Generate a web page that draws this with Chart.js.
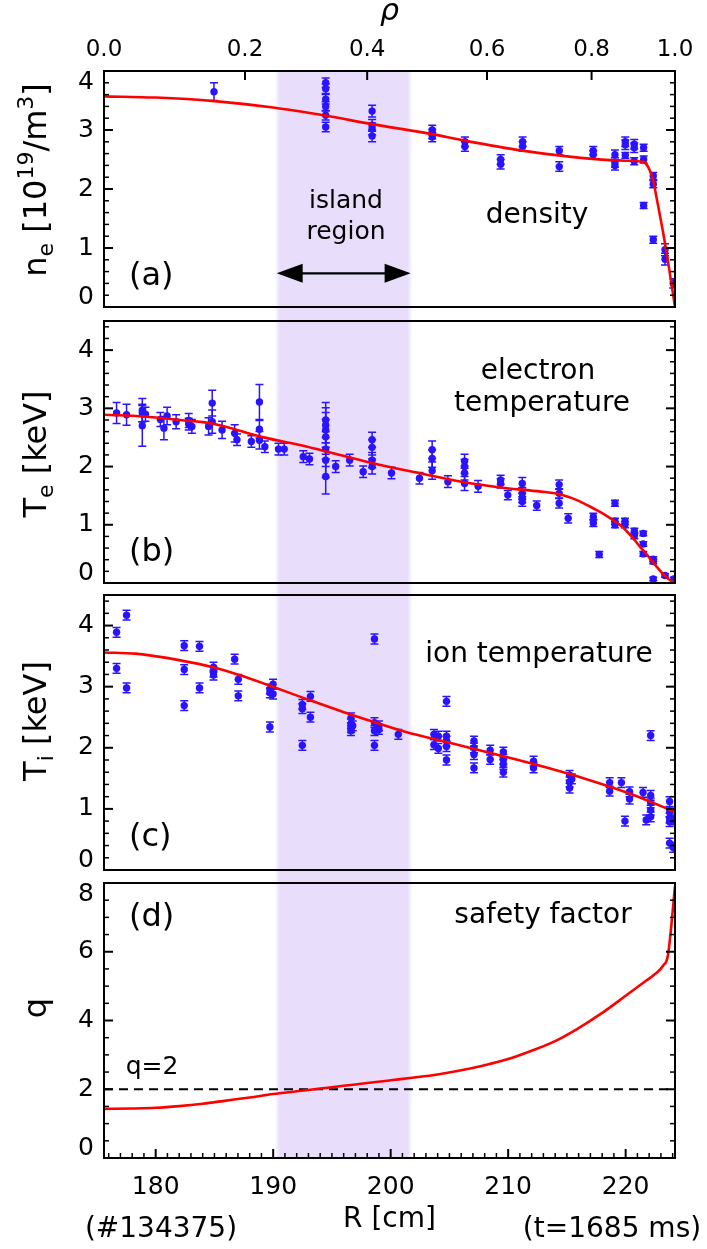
<!DOCTYPE html>
<html><head><meta charset="utf-8">
<script src="https://cdn.jsdelivr.net/npm/chart.js@4"></script>
<style>
body{margin:0;background:#fff}
#wrap{position:relative;width:707px;height:1249px;background:#fff}
canvas{position:absolute;left:0}
</style>
</head><body>
<div id="wrap">
<canvas id="ca" width="707" height="314" style="top:0px"></canvas>
<canvas id="cb" width="707" height="275" style="top:314px"></canvas>
<canvas id="cc" width="707" height="287" style="top:589px"></canvas>
<canvas id="cd" width="707" height="373" style="top:876px"></canvas>
</div>
<script>
// ---------- axis / tick data ----------
const R_MIN = 175.6, R_MAX = 224.2;
const R_TICKS = [180, 190, 200, 210, 220];
const R_MINOR = [176,177,178,179,181,182,183,184,185,186,187,188,189,191,192,193,194,195,196,197,198,199,201,202,203,204,205,206,207,208,209,211,212,213,214,215,216,217,218,219,221,222,223,224];
const RHO_LABELS = ['0.0', '0.2', '0.4', '0.6', '0.8', '1.0'];
const RHO_AT_R = [175.6, 187.6, 198.0, 208.2, 217.1, 224.2];
const ISLAND_R = [190.3, 201.7];

const NE_TICKS = [0, 1, 2, 3, 4];
const NE_MINOR = [0.2,0.4,0.6,0.8,1.2,1.4,1.6,1.8,2.2,2.4,2.6,2.8,3.2,3.4,3.6,3.8];
const T_TICKS = [0, 1, 2, 3, 4];
const T_MINOR = [0.2,0.4,0.6,0.8,1.2,1.4,1.6,1.8,2.2,2.4,2.6,2.8,3.2,3.4,3.6,3.8,4.2,4.4];
const Q_TICKS = [0, 2, 4, 6, 8];
const Q_MINOR = [0.5,1,1.5,2.5,3,3.5,4.5,5,5.5,6.5,7,7.5];

// ---------- density ----------
const NE_R = [184.96,194.47,194.47,194.47,194.47,194.47,194.47,198.42,198.42,198.42,198.42,203.54,203.54,203.54,206.32,206.32,209.36,209.36,211.23,211.23,214.35,214.35,217.24,217.24,219.09,219.09,219.09,219.97,219.97,219.97,220.73,220.73,220.73,221.53,221.53,221.53,222.35,222.35,222.35,223.35,223.35,224.05];
const NE_V = [3.65,3.80,3.70,3.52,3.40,3.25,3.05,3.32,3.08,3.02,2.90,3.00,2.93,2.88,2.80,2.72,2.50,2.42,2.80,2.72,2.65,2.38,2.65,2.58,2.58,2.45,2.40,2.80,2.75,2.57,2.76,2.70,2.47,2.70,2.50,1.72,2.22,2.08,1.14,0.97,0.81,0.40];
const NE_ERR = [0.15,0.08,0.08,0.08,0.08,0.08,0.08,0.10,0.10,0.10,0.10,0.08,0.08,0.08,0.08,0.08,0.08,0.08,0.08,0.08,0.07,0.08,0.07,0.07,0.08,0.08,0.08,0.08,0.08,0.05,0.08,0.08,0.06,0.06,0.06,0.05,0.06,0.06,0.06,0.10,0.10,0.08];
const NE_FIT_R = [175.6,180,185,190,194.5,198.4,203.5,206.3,211.2,214.3,217.2,220.0,221.5,221.9,222.3,222.7,223.2,223.7,224.2];
const NE_FIT_V = [3.57,3.55,3.49,3.38,3.24,3.10,2.93,2.82,2.65,2.57,2.51,2.48,2.46,2.38,2.18,1.78,1.25,0.65,0.0];

// ---------- electron temperature ----------
const TE_R = [176.67,177.52,178.86,178.86,178.86,179.13,180.40,180.70,180.97,181.74,182.81,182.81,183.08,184.50,184.81,184.81,185.65,186.72,186.92,188.14,188.83,188.83,188.83,189.29,190.45,190.94,192.56,193.09,194.47,194.47,194.47,194.47,194.47,194.47,194.47,195.32,196.51,197.66,198.42,198.42,198.42,198.42,200.07,202.45,203.53,203.53,203.53,204.87,206.29,206.29,206.29,206.29,207.44,209.36,209.36,209.97,211.20,211.20,211.20,211.20,212.43,214.34,214.34,214.34,215.11,217.25,217.25,217.75,219.09,219.09,219.09,219.94,219.94,220.74,220.74,221.50,221.50,221.50,222.35,222.35,222.35,223.35,224.10];
const TE_V = [2.92,2.89,2.97,2.92,2.70,2.90,2.81,2.66,2.87,2.77,2.79,2.73,2.69,2.69,2.77,3.09,2.63,2.57,2.46,2.43,3.11,2.64,2.45,2.34,2.30,2.30,2.17,2.13,2.80,2.71,2.63,2.51,2.30,2.11,1.83,2.00,2.11,1.91,2.46,2.33,2.11,2.00,1.89,1.80,2.29,2.14,1.93,1.74,2.09,2.00,1.89,1.71,1.66,1.77,1.71,1.51,1.71,1.54,1.46,1.40,1.33,1.69,1.54,1.37,1.11,1.14,1.03,0.49,1.37,1.06,1.00,1.06,1.00,0.89,0.81,0.85,0.67,0.50,0.41,0.37,0.07,0.13,0.07];
const TE_ERR = [0.18,0.18,0.20,0.15,0.35,0.12,0.12,0.20,0.15,0.12,0.12,0.10,0.12,0.15,0.20,0.22,0.15,0.15,0.10,0.10,0.30,0.15,0.15,0.10,0.10,0.10,0.10,0.10,0.30,0.30,0.30,0.30,0.30,0.30,0.30,0.10,0.10,0.10,0.13,0.13,0.13,0.13,0.10,0.10,0.15,0.15,0.15,0.10,0.12,0.12,0.12,0.12,0.10,0.08,0.08,0.08,0.10,0.10,0.08,0.08,0.08,0.08,0.08,0.08,0.08,0.06,0.06,0.05,0.05,0.05,0.05,0.05,0.05,0.05,0.05,0.04,0.04,0.04,0.04,0.04,0.03,0.03,0.03];
const TE_FIT_R = [175.6,179.0,182.1,184.8,189.0,192.9,194.5,198.4,202.4,206.3,209.0,212.8,214.0,215.1,216.0,217.0,218.0,219.0,219.8,220.5,221.2,222.0,222.6,223.3,223.9,224.2];
const TE_FIT_V = [2.89,2.86,2.80,2.74,2.51,2.34,2.26,2.06,1.89,1.73,1.65,1.57,1.54,1.48,1.41,1.31,1.20,1.07,0.95,0.80,0.63,0.44,0.29,0.13,0.03,0.0];

// ---------- ion temperature ----------
const TI_R = [176.67,176.67,177.52,177.52,182.43,182.43,182.43,183.73,183.73,184.92,184.92,184.92,186.72,187.03,187.03,189.72,189.72,189.72,189.99,189.99,192.48,192.48,192.48,193.17,193.17,196.62,196.62,196.62,196.62,196.77,198.62,198.62,198.62,198.62,199.00,199.00,200.65,203.68,203.68,204.06,204.06,204.75,204.75,204.75,204.75,204.75,207.09,207.09,207.09,207.09,208.47,208.47,209.59,209.59,209.59,209.59,212.16,212.16,215.23,215.23,215.23,215.42,218.64,218.64,219.64,219.94,220.33,220.33,221.48,221.75,222.13,222.13,222.13,222.13,222.13,223.74,223.74,223.74,223.74,223.74,224.05,224.05];
const TI_V = [3.89,3.30,4.17,2.98,3.67,3.28,2.69,3.66,2.98,3.32,3.24,3.19,3.45,3.12,2.85,2.96,2.90,2.34,3.04,2.88,2.71,2.64,2.04,2.84,2.50,2.49,2.39,2.33,2.28,2.36,3.78,2.41,2.28,2.04,2.36,2.30,2.22,2.22,2.05,2.19,1.99,2.76,2.19,2.11,2.02,1.80,2.11,2.00,1.89,1.67,1.96,1.81,1.93,1.81,1.73,1.60,1.78,1.67,1.55,1.44,1.34,1.49,1.43,1.29,1.43,0.80,1.28,1.16,1.27,0.82,2.20,1.22,1.10,0.98,0.87,1.12,0.95,0.85,0.79,0.44,0.82,0.37];
const TI_ERR = [0.08,0.08,0.08,0.08,0.08,0.08,0.08,0.08,0.08,0.08,0.08,0.08,0.08,0.08,0.08,0.08,0.08,0.08,0.08,0.08,0.08,0.08,0.08,0.08,0.08,0.08,0.08,0.08,0.08,0.08,0.08,0.08,0.08,0.08,0.08,0.08,0.08,0.08,0.08,0.08,0.08,0.08,0.08,0.08,0.08,0.08,0.08,0.08,0.08,0.08,0.08,0.08,0.08,0.08,0.08,0.08,0.08,0.08,0.08,0.08,0.08,0.08,0.08,0.08,0.08,0.08,0.08,0.08,0.08,0.08,0.08,0.08,0.08,0.08,0.08,0.08,0.08,0.08,0.08,0.08,0.08,0.08];
const TI_FIT_R = [175.6,178.3,182.1,184.8,187.1,189.8,192.8,195.9,198.6,201.3,205.1,209.0,212.8,216.6,220.5,224.2];
const TI_FIT_V = [3.56,3.54,3.43,3.32,3.19,3.01,2.80,2.59,2.42,2.26,2.08,1.89,1.70,1.49,1.24,0.95];

// ---------- safety factor ----------
const Q_FIT_R = [175.6,178,180,182,184,186,188,190,192,194,196,198,200,202,204,206,208,210,212,214,216,218,220,221.5,222.5,223.2,223.6,224.2];
const Q_FIT_V = [1.43,1.44,1.46,1.51,1.58,1.67,1.76,1.86,1.94,2.02,2.10,2.18,2.26,2.34,2.43,2.55,2.70,2.88,3.12,3.40,3.78,4.22,4.72,5.10,5.35,5.60,5.90,7.90];
const Q_REF = 2;
const ARROW_V = 0.57;

// ---------- styling ----------
const FONT = "'DejaVu Sans', 'Bitstream Vera Sans', Verdana, sans-serif";
const BLUE = '#2a14ff';
const RED = '#ff0000';
const SHADE = 'rgba(232,222,252,1)';
const SHADE0 = 'rgba(232,222,252,0)';

function pts(xs, ys) { return xs.map((x, i) => ({ x: x, y: ys[i] })); }
function line(ctx, x1, y1, x2, y2) { ctx.beginPath(); ctx.moveTo(x1, y1); ctx.lineTo(x2, y2); ctx.stroke(); }

const panelPlugin = {
  id: 'panel',
  beforeDatasetsDraw(chart, args, o) {
    const ctx = chart.ctx, xs = chart.scales.x, ys = chart.scales.y, ca = chart.chartArea;
    const x0 = xs.getPixelForValue(ISLAND_R[0]), x1 = xs.getPixelForValue(ISLAND_R[1]);
    const top = o.shadeFromArea ? ca.top : 0;
    const bot = o.shadeToArea ? ca.bottom : chart.height;
    ctx.save();
    const w = x1 - x0 + 4;
    const g = ctx.createLinearGradient(x0 - 2, 0, x1 + 2, 0);
    g.addColorStop(0, SHADE0); g.addColorStop(5 / w, SHADE); g.addColorStop(1 - 5 / w, SHADE); g.addColorStop(1, SHADE0);
    ctx.fillStyle = g;
    ctx.fillRect(x0 - 2, top, w, bot - top);
    // error bars
    ctx.beginPath(); ctx.rect(ca.left, ca.top, ca.right - ca.left, ca.bottom - ca.top); ctx.clip();
    chart.data.datasets.forEach(ds => {
      if (!ds.errors) return;
      ctx.strokeStyle = ds.backgroundColor; ctx.lineWidth = 1.5;
      ds.data.forEach((p, i) => {
        const e = ds.errors[i];
        const px = xs.getPixelForValue(p.x);
        const ya = ys.getPixelForValue(p.y + e), yb = ys.getPixelForValue(p.y - e);
        ctx.beginPath();
        ctx.moveTo(px, ya); ctx.lineTo(px, yb);
        ctx.moveTo(px - 4, ya); ctx.lineTo(px + 4, ya);
        ctx.moveTo(px - 4, yb); ctx.lineTo(px + 4, yb);
        ctx.stroke();
      });
    });
    ctx.restore();
  },
  afterDraw(chart, args, o) {
    const ctx = chart.ctx, xs = chart.scales.x, ys = chart.scales.y, ca = chart.chartArea;
    ctx.save();
    ctx.strokeStyle = '#000'; ctx.fillStyle = '#000';
    // y ticks (inward, both sides)
    ctx.lineWidth = 1.5;
    o.yMinor.forEach(v => { const py = ys.getPixelForValue(v); line(ctx, ca.left, py, ca.left + 5, py); line(ctx, ca.right, py, ca.right - 5, py); });
    ctx.lineWidth = 2;
    o.yMajor.forEach(v => { const py = ys.getPixelForValue(v); line(ctx, ca.left, py, ca.left + 9, py); line(ctx, ca.right, py, ca.right - 9, py); });
    if (o.rTicks) {
      ctx.lineWidth = 1.5;
      R_MINOR.forEach(v => { const px = xs.getPixelForValue(v); line(ctx, px, ca.bottom, px, ca.bottom - 5); });
      ctx.lineWidth = 2;
      R_TICKS.forEach(v => { const px = xs.getPixelForValue(v); line(ctx, px, ca.bottom, px, ca.bottom - 9); });
    }
    if (o.rhoTicks) {
      ctx.lineWidth = 2;
      RHO_AT_R.slice(1, -1).forEach(v => { const px = xs.getPixelForValue(v); line(ctx, px, ca.top, px, ca.top + 9); });
    }
    // frame
    ctx.lineWidth = 2;
    ctx.strokeRect(ca.left, ca.top, ca.right - ca.left, ca.bottom - ca.top);
    // y tick labels
    ctx.font = '25px ' + FONT; ctx.textAlign = 'right'; ctx.textBaseline = 'middle';
    o.yMajor.forEach(v => {
      let py = ys.getPixelForValue(v);
      py = Math.min(Math.max(py, ca.top + 11), ca.bottom - 10);
      ctx.fillText(String(v), 94, py);
    });
    // y axis title with sub/superscripts
    if (o.title) {
      const segs = o.title.segs;
      let total = 0;
      segs.forEach(s => { ctx.font = s.size + 'px ' + FONT; s.w = ctx.measureText(s.t).width; total += s.w; });
      ctx.save();
      ctx.translate(o.title.x, o.title.cy - o.offsetY);
      ctx.rotate(-Math.PI / 2);
      ctx.textAlign = 'left'; ctx.textBaseline = 'alphabetic';
      let tx = -total / 2;
      segs.forEach(s => { ctx.font = s.size + 'px ' + FONT; ctx.fillText(s.t, tx, s.dy || 0); tx += s.w; });
      ctx.restore();
    }
    // arrow
    if (o.arrow) {
      const ax0 = xs.getPixelForValue(ISLAND_R[0]), ax1 = xs.getPixelForValue(ISLAND_R[1]);
      const ay = ys.getPixelForValue(ARROW_V);
      ctx.lineWidth = 2.2;
      line(ctx, ax0 + 20, ay, ax1 - 20, ay);
      ctx.beginPath(); ctx.moveTo(ax0, ay); ctx.lineTo(ax0 + 26, ay - 9.5); ctx.lineTo(ax0 + 26, ay + 9.5); ctx.closePath(); ctx.fill();
      ctx.beginPath(); ctx.moveTo(ax1, ay); ctx.lineTo(ax1 - 26, ay - 9.5); ctx.lineTo(ax1 - 26, ay + 9.5); ctx.closePath(); ctx.fill();
    }
    // annotation texts (page coordinates)
    o.texts.forEach(t => {
      ctx.font = t.size + 'px ' + FONT;
      ctx.textAlign = t.align || 'center';
      ctx.textBaseline = 'middle';
      ctx.fillText(t.text, t.x, t.y - o.offsetY);
    });
    ctx.restore();
  }
};

function yAxis(min, max) {
  return {
    type: 'linear', position: 'left', min: min, max: max,
    grid: { display: false, drawTicks: false }, border: { display: false },
    ticks: { display: false },
    title: { display: false },
    afterFit: s => { s.width = 104; }
  };
}
function xHidden() { return { type: 'linear', min: R_MIN, max: R_MAX, display: false }; }
function fitSet(xs, ys) {
  return { data: pts(xs, ys), showLine: true, borderColor: RED, borderWidth: 2.6, pointRadius: 0, cubicInterpolationMode: 'monotone', order: 0 };
}
function ptSet(xs, ys, errs) {
  return { data: pts(xs, ys), errors: errs, showLine: false, backgroundColor: BLUE, borderColor: BLUE, borderWidth: 0, pointRadius: 3.7, order: 1 };
}
function baseOptions(pad, scales, panel) {
  return {
    responsive: false, animation: false, devicePixelRatio: 1,
    layout: { padding: pad },
    plugins: { legend: { display: false }, tooltip: { enabled: false }, panel: panel },
    scales: scales
  };
}

// Panel (a) density
new Chart(document.getElementById('ca'), {
  type: 'scatter',
  data: { datasets: [fitSet(NE_FIT_R, NE_FIT_V), ptSet(NE_R, NE_V, NE_ERR)] },
  options: baseOptions({ left: 0, right: 32, top: 0, bottom: 7 }, {
    x: xHidden(),
    xTop: {
      type: 'linear', position: 'top', min: R_MIN, max: R_MAX,
      grid: { display: false, drawTicks: false }, border: { display: false },
      afterBuildTicks: s => { s.ticks = RHO_AT_R.map(v => ({ value: v })); },
      ticks: { autoSkip: false, maxRotation: 0, padding: 7, color: '#000', font: { family: FONT, size: 23 },
               callback: (v, i) => RHO_LABELS[i] },
      title: { display: true, text: 'ρ', color: '#000', font: { family: FONT, size: 30, style: 'italic', lineHeight: 0.8 }, padding: { top: 0, bottom: 0 } },
      afterFit: s => { s.height = 71; }
    },
    y: yAxis(0, 4)
  }, {
    offsetY: 0, shadeFromArea: true, shadeToArea: false, arrow: true, rhoTicks: true,
    yMajor: NE_TICKS, yMinor: NE_MINOR,
    title: { x: 46, cy: 180, segs: [
      { t: 'n', size: 32 }, { t: 'e', size: 22, dy: 7 }, { t: ' [10', size: 32 },
      { t: '19', size: 22, dy: -13 }, { t: '/m', size: 32 }, { t: '3', size: 22, dy: -13 }, { t: ']', size: 32 } ] },
    texts: [
      { text: '(a)', x: 129, y: 277, size: 32, align: 'left' },
      { text: 'island', x: 346, y: 201, size: 25 },
      { text: 'region', x: 346, y: 232, size: 25 },
      { text: 'density', x: 537, y: 216, size: 28 }
    ]
  }),
  plugins: [panelPlugin]
});

// Panel (b) electron temperature
new Chart(document.getElementById('cb'), {
  type: 'scatter',
  data: { datasets: [fitSet(TE_FIT_R, TE_FIT_V), ptSet(TE_R, TE_V, TE_ERR)] },
  options: baseOptions({ left: 0, right: 32, top: 7, bottom: 6 }, {
    x: xHidden(),
    y: yAxis(0, 4.5)
  }, {
    offsetY: 314, yMajor: T_TICKS, yMinor: T_MINOR,
    title: { x: 46, cy: 454, segs: [ { t: 'T', size: 32 }, { t: 'e', size: 22, dy: 7 }, { t: ' [keV]', size: 32 } ] },
    texts: [
      { text: '(b)', x: 129, y: 553, size: 32, align: 'left' },
      { text: 'electron', x: 538, y: 372, size: 28 },
      { text: 'temperature', x: 542, y: 404, size: 28 }
    ]
  }),
  plugins: [panelPlugin]
});

// Panel (c) ion temperature
new Chart(document.getElementById('cc'), {
  type: 'scatter',
  data: { datasets: [fitSet(TI_FIT_R, TI_FIT_V), ptSet(TI_R, TI_V, TI_ERR)] },
  options: baseOptions({ left: 0, right: 32, top: 6, bottom: 6 }, {
    x: xHidden(),
    y: yAxis(0, 4.5)
  }, {
    offsetY: 589, yMajor: T_TICKS, yMinor: T_MINOR,
    title: { x: 46, cy: 721, segs: [ { t: 'T', size: 32 }, { t: 'i', size: 22, dy: 7 }, { t: ' [keV]', size: 32 } ] },
    texts: [
      { text: '(c)', x: 129, y: 838, size: 32, align: 'left' },
      { text: 'ion temperature', x: 539, y: 655, size: 28 }
    ]
  }),
  plugins: [panelPlugin]
});

// Panel (d) safety factor
new Chart(document.getElementById('cd'), {
  type: 'scatter',
  data: { datasets: [
    fitSet(Q_FIT_R, Q_FIT_V),
    { data: [{ x: R_MIN, y: Q_REF }, { x: R_MAX, y: Q_REF }], showLine: true, borderColor: '#000', borderWidth: 1.8, borderDash: [9, 6], pointRadius: 0, order: 2 }
  ] },
  options: baseOptions({ left: 0, right: 32, top: 7, bottom: 0 }, {
    x: {
      type: 'linear', position: 'bottom', min: R_MIN, max: R_MAX,
      grid: { display: false, drawTicks: false }, border: { display: false },
      afterBuildTicks: s => { s.ticks = R_TICKS.map(v => ({ value: v })); },
      ticks: { autoSkip: false, maxRotation: 0, padding: 14, color: '#000', font: { family: FONT, size: 25 } },
      title: { display: true, text: 'R [cm]', color: '#000', font: { family: FONT, size: 28 }, padding: { top: 0, bottom: 12 } },
      afterFit: s => { s.height = 91; }
    },
    y: yAxis(0, 8)
  }, {
    offsetY: 876, shadeFromArea: false, shadeToArea: true, rTicks: true,
    yMajor: Q_TICKS, yMinor: Q_MINOR,
    title: { x: 46, cy: 1008, segs: [ { t: 'q', size: 32 } ] },
    texts: [
      { text: '(d)', x: 129, y: 918, size: 32, align: 'left' },
      { text: 'safety factor', x: 543, y: 916, size: 28 },
      { text: 'q=2', x: 152, y: 1067, size: 25 },
      { text: '(#134375)', x: 161, y: 1230, size: 28 },
      { text: '(t=1685 ms)', x: 612, y: 1230, size: 28 }
    ]
  }),
  plugins: [panelPlugin]
});
</script>
</body></html>
